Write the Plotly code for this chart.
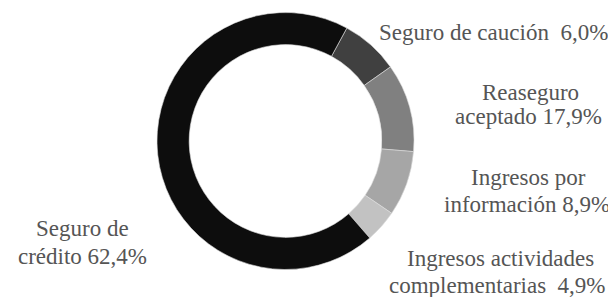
import plotly.graph_objects as go

# Slice order (clockwise from the first boundary)
categories = ["Seguro de caución", "Reaseguro aceptado", "Ingresos por información",
              "Ingresos actividades complementarias", "Seguro de crédito"]
# shares as drawn in the picture (ring geometry)
drawn_share = [7.3, 11.1, 8.2, 4.1, 69.3]
# label text lines as printed
label_lines = [
    ["Seguro de caución  6,0%"],
    ["Reaseguro", "aceptado 17,9%"],
    ["Ingresos por", "información 8,9%"],
    ["Ingresos actividades", "complementarias  4,9%"],
    ["Seguro de", "crédito 62,4%"],
]
colors = ["#404040", "#808080", "#a6a6a6", "#c2c2c2", "#0d0d0d"]

OFF = 8            # browser body margin
W, H = 616 - OFF, 297 - OFF
# (center x, baseline y) of each line, in window pixels
line_pos = [
    [(493, 39)],
    [(530, 99), (528, 123)],
    [(528, 184), (527, 211)],
    [(500, 265), (497, 292)],
    [(82, 235), (82, 263)],
]

def px(x):
    return (x - OFF) / W

def py(y):
    return 1 - (y - OFF) / H

fig = go.Figure(go.Pie(
    labels=categories, values=drawn_share, hole=0.75, sort=False,
    direction="clockwise", rotation=28.5,
    marker=dict(colors=colors, line=dict(color="#dddddd", width=0.6)),
    textinfo="none", hoverinfo="label+percent",
    domain=dict(x=[px(157), px(414)], y=[py(270), py(12)]),
    showlegend=False,
))

FS = 23
for lines, poss in zip(label_lines, line_pos):
    for txt, (x, y) in zip(lines, poss):
        fig.add_annotation(x=px(x), y=py(y - 0.3 * FS), xref="paper", yref="paper",
                           text=txt, showarrow=False, align="center",
                           xanchor="center", yanchor="middle",
                           font=dict(family="Liberation Serif", size=FS, color="#555555"))

fig.update_layout(width=W, height=H, margin=dict(l=0, r=0, t=0, b=0),
                  paper_bgcolor="white", plot_bgcolor="white")
fig.write_html("out.html")
